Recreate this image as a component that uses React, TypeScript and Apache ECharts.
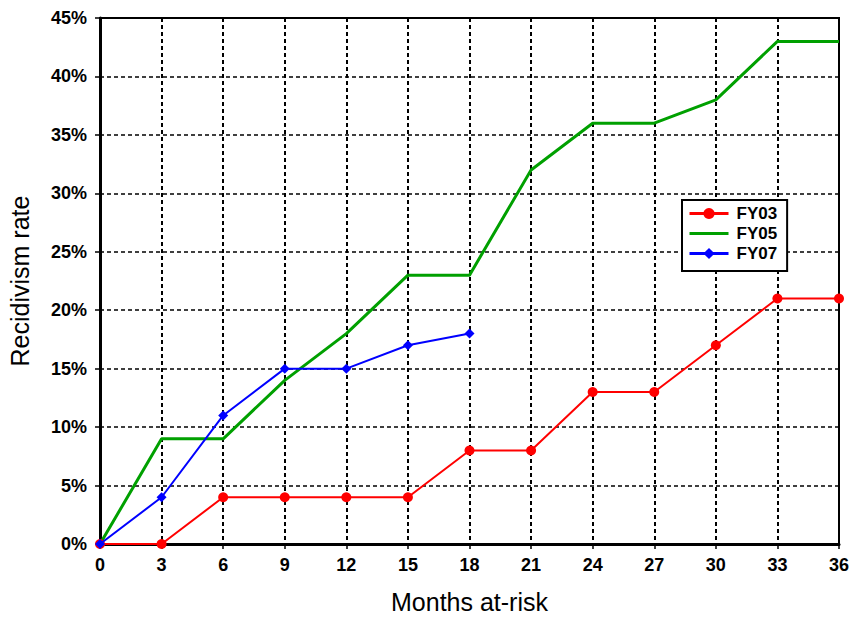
import React, { useEffect, useRef } from "react";
import * as echarts from "echarts";

const months = [0, 3, 6, 9, 12, 15, 18, 21, 24, 27, 30, 33, 36];
const fy03 = [0, 0, 4, 4, 4, 4, 8, 8, 13, 13, 17, 21, 21];
const fy05 = [0, 9, 9, 14, 18, 23, 23, 32, 36, 36, 38, 43, 43];
const fy07 = [0, 4, 11, 15, 15, 17, 18];

const pair = (vals: number[]) => vals.map((v, i) => [months[i], v]);

export default function App() {
  const ref = useRef<HTMLDivElement>(null);
  useEffect(() => {
    if (!ref.current) return;
    const chart = echarts.init(ref.current, undefined, { renderer: "svg" });
    const font = "Liberation Sans, Arial, sans-serif";
    chart.setOption({
      animation: false,
      backgroundColor: "#ffffff",
      textStyle: { fontFamily: font },
      grid: {
        left: 100,
        right: 12,
        top: 18,
        bottom: 73,
        show: true,
        borderColor: "#000",
        borderWidth: 2,
        backgroundColor: "transparent",
        containLabel: false,
        outerBoundsMode: "none",
      },
      legend: {
        orient: "vertical",
        left: 682,
        top: 200,
        padding: [5, 10, 9, 6],
        itemGap: 3,
        itemWidth: 39,
        itemHeight: 14,
        backgroundColor: "#fff",
        borderColor: "#000",
        borderWidth: 2,
        textStyle: { fontFamily: font, fontWeight: "bold", fontSize: 17, color: "#000", padding: [0, 0, 0, 3] },
        data: [
          { name: "FY03", lineStyle: { width: 3 } },
          { name: "FY05", itemStyle: { opacity: 0 }, lineStyle: { width: 3 } },
          { name: "FY07", lineStyle: { width: 3 } },
        ],
      },
      xAxis: {
        type: "value",
        min: 0,
        max: 36,
        interval: 3,
        name: "Months at-risk",
        nameLocation: "middle",
        nameGap: 45,
        nameTextStyle: { fontFamily: font, fontSize: 25, color: "#000" },
        axisLine: { lineStyle: { color: "#000", width: 3 } },
        axisTick: { show: true, length: 5, lineStyle: { color: "#000", width: 1.5 } },
        axisLabel: { color: "#000", fontWeight: "bold", fontSize: 18, fontFamily: font, margin: 12 },
        splitLine: { show: true, lineStyle: { color: "#000", width: 2, type: [4, 3] } },
      },
      yAxis: {
        type: "value",
        min: 0,
        max: 45,
        interval: 5,
        name: "Recidivism rate",
        nameLocation: "middle",
        nameGap: 68,
        nameTextStyle: { fontFamily: font, fontSize: 25, color: "#000" },
        axisLine: { show: true, lineStyle: { color: "#000", width: 3 } },
        axisTick: { show: true, length: 5, lineStyle: { color: "#000", width: 1.5 } },
        axisLabel: {
          color: "#000",
          fontWeight: "bold",
          fontSize: 18,
          fontFamily: font,
          margin: 13,
          formatter: "{value}%",
        },
        splitLine: { show: true, lineStyle: { color: "#000", width: 1.5, type: [4, 3] } },
      },
      series: [
        {
          name: "FY05",
          type: "line",
          data: pair(fy05),
          symbol: "none",
          lineStyle: { color: "#00a000", width: 3 },
          itemStyle: { color: "#00a000" },
          z: 2,
        },
        {
          name: "FY03",
          type: "line",
          data: pair(fy03),
          symbol: "circle",
          symbolSize: 10,
          lineStyle: { color: "#ff0000", width: 2 },
          itemStyle: { color: "#ff0000" },
          z: 3,
        },
        {
          name: "FY07",
          type: "line",
          data: pair(fy07),
          symbol: "diamond",
          symbolSize: 10,
          lineStyle: { color: "#0000ff", width: 2 },
          itemStyle: { color: "#0000ff" },
          z: 4,
        },
      ],
    });
    return () => chart.dispose();
  }, []);
  return <div ref={ref} style={{ width: 851, height: 617, position: "absolute", left: 0, top: 0 }} />;
}
